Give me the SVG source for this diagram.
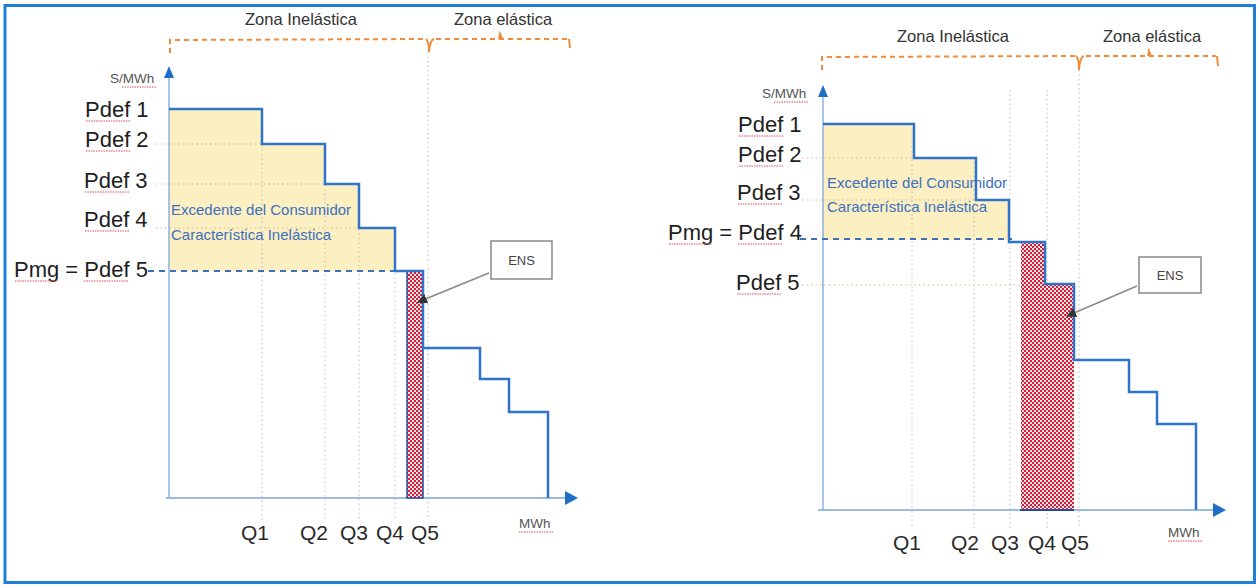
<svg xmlns="http://www.w3.org/2000/svg" width="1259" height="587" viewBox="0 0 1259 587">
<defs>
<style>
.lbl{font-family:"Liberation Sans",Arial,sans-serif;fill:#1e1e1e;font-size:22px}
.q{font-family:"Liberation Sans",Arial,sans-serif;fill:#2a2a2a;font-size:21px;text-anchor:middle}
.zone{font-family:"Liberation Sans",Arial,sans-serif;fill:#333;font-size:16.5px}
.unit{font-family:"Liberation Sans",Arial,sans-serif;fill:#555;font-size:13.5px}
.blue{font-family:"Liberation Sans",Arial,sans-serif;fill:#3b6fbf;font-size:15px}
.ens{font-family:"Liberation Sans",Arial,sans-serif;fill:#444;font-size:13px;text-anchor:middle}
.step{fill:none;stroke:#2f74c8;stroke-width:2.5;stroke-linejoin:miter}
.axis{stroke:#7aa6dc;stroke-width:1.3;fill:none}
.head{fill:#1f6fc8}
.yel{fill:#fcefc2}
.pmg{stroke:#3f6fb6;stroke-width:2;stroke-dasharray:6 5;fill:none}
.gv{stroke:#bdbdbd;stroke-width:1;stroke-dasharray:1.5 3;fill:none}
.gh{stroke:#d2b98a;stroke-width:1;stroke-dasharray:1.5 3;fill:none}
.brace{stroke:#f08a3c;stroke-width:2;stroke-dasharray:5 4;fill:none}
.wavy{stroke:#e04b5a;stroke-width:1;stroke-dasharray:1.5 1;fill:none}
.ensbox{fill:#fff;stroke:#777;stroke-width:1.3}
.ensline{stroke:#8a8a8a;stroke-width:1.5;fill:none}
</style>
<pattern id="chk" width="4" height="4" patternUnits="userSpaceOnUse">
<rect width="4" height="4" fill="#d41f38"/>
<circle cx="1" cy="1" r="1.05" fill="#fff"/>
<circle cx="3" cy="3" r="1.05" fill="#fff"/>
</pattern>
<marker id="arr" markerWidth="10" markerHeight="10" refX="9" refY="5" orient="auto" markerUnits="userSpaceOnUse">
<path d="M0,0 L10,5 L0,10 Z" fill="#333"/>
</marker>
</defs>
<rect x="0" y="0" width="1259" height="587" fill="#fff"/>
<rect id="frame" x="5" y="5.5" width="1249.5" height="577" fill="none" stroke="#1f7fd6" stroke-width="3"/>

<!-- LEFT CHART -->
<g id="left-chart">
<g id="left-surplus">
<polygon class="yel" points="169,109 262,109 262,144 325,144 325,184 359,184 359,228 395,228 395,271 169,271"/>
</g>
<g id="left-grid">
<line class="gh" x1="156" y1="144" x2="262" y2="144"/>
<line class="gh" x1="156" y1="184" x2="325" y2="184"/>
<line class="gh" x1="156" y1="228" x2="359" y2="228"/>
<line class="gv" x1="262" y1="109" x2="262" y2="520"/>
<line class="gv" x1="325" y1="144" x2="325" y2="520"/>
<line class="gv" x1="359" y1="184" x2="359" y2="520"/>
<line class="gv" x1="395" y1="228" x2="395" y2="520"/>
<line class="gv" x1="428" y1="52" x2="428" y2="518"/>
</g>
<g id="left-axes">
<line class="axis" x1="169" y1="497" x2="169" y2="78"/>
<polygon class="head" points="169,66 164,78 174,78"/>
<line class="axis" x1="166" y1="498" x2="566" y2="498"/>
<polygon class="head" points="565,491 578,498 565,505"/>
<text class="unit" x="110" y="83">S/MWh</text>
<path class="wavy" d="M122,87 H157"/>
<text class="unit" x="519" y="528">MWh</text>
<path class="wavy" d="M519,532 H553"/>
</g>
<g id="left-ens">
<rect x="407" y="271" width="16" height="227" fill="url(#chk)" stroke="#1f4e9c" stroke-width="1.5"/>
</g>
<g id="left-pmg">
<line class="pmg" x1="148" y1="271" x2="400" y2="271"/>
</g>
<g id="left-curve">
<path class="step" d="M169,109 H262 V144 H325 V184 H359 V228 H395 V271 H423 V348 H480 V379 H509 V412 H548 V498"/>
</g>
<g id="left-labels">
<text class="lbl" x="85" y="117">Pdef 1</text>
<text class="lbl" x="85" y="147">Pdef 2</text>
<text class="lbl" x="84" y="188">Pdef 3</text>
<text class="lbl" x="84" y="227">Pdef 4</text>
<text class="lbl" x="14" y="277">Pmg = Pdef 5</text>
<path class="wavy" d="M86,121 H130 M86,151 H130 M85,192 H129 M85,231 H129 M15,281 H58 M84,281 H128"/>
<text class="blue" x="171" y="215">Excedente del Consumidor</text>
<text class="blue" x="171" y="240">Característica Inelástica</text>
<text class="q" x="255" y="540">Q1</text>
<text class="q" x="314" y="540">Q2</text>
<text class="q" x="354" y="540">Q3</text>
<text class="q" x="390" y="540">Q4</text>
<text class="q" x="425" y="540">Q5</text>
</g>
<g id="left-zones">
<text class="zone" x="245" y="25">Zona Inelástica</text>
<text class="zone" x="454" y="25">Zona elástica</text>
<path class="brace" d="M170,53 V40 L425,39"/>
<path d="M426,39 Q429,41 429,52 Q430,40 434,39" fill="none" stroke="#f08a3c" stroke-width="2"/>
<path class="brace" d="M436,39 H568"/>
<path d="M499,39 L500,34 L502,39 M569,39 L570,48" fill="none" stroke="#f08a3c" stroke-width="2"/>
</g>
<g id="left-ens-label">
<rect class="ensbox" x="491" y="241" width="61" height="38"/>
<text class="ens" x="521.5" y="265">ENS</text>
</g>
</g>

<!-- RIGHT CHART -->
<g id="right-chart">
<g id="right-surplus">
<polygon class="yel" points="823,124 914,124 914,158 976,158 976,200 1009,200 1009,240 823,240"/>
</g>
<g id="right-grid">
<line class="gh" x1="802" y1="158" x2="914" y2="158"/>
<line class="gh" x1="802" y1="200" x2="976" y2="200"/>
<line class="gh" x1="802" y1="285" x2="1045" y2="285"/>
<line class="gv" x1="912" y1="124" x2="912" y2="528"/>
<line class="gv" x1="974" y1="158" x2="974" y2="528"/>
<line class="gv" x1="1010" y1="90" x2="1010" y2="528"/>
<line class="gv" x1="1047" y1="90" x2="1047" y2="528"/>
<line class="gv" x1="1079" y1="70" x2="1079" y2="528"/>
</g>
<g id="right-axes">
<line class="axis" x1="823" y1="510" x2="823" y2="97"/>
<polygon class="head" points="823,85 818,97 828,97"/>
<line class="axis" x1="818" y1="510" x2="1214" y2="510"/>
<polygon class="head" points="1213,503 1226,510 1213,517"/>
<text class="unit" x="762" y="98">S/MWh</text>
<path class="wavy" d="M774,102 H808"/>
<text class="unit" x="1168" y="537">MWh</text>
<path class="wavy" d="M1168,541 H1202"/>
</g>
<g id="right-ens">
<path d="M1021,242 H1045 V284 H1074 V510 H1021 Z" fill="url(#chk)"/>
<line x1="1020" y1="510" x2="1074" y2="510" stroke="#1f4e9c" stroke-width="2"/>
</g>
<g id="right-pmg">
<line class="pmg" x1="800" y1="239" x2="1012" y2="239"/>
</g>
<g id="right-curve">
<path class="step" d="M823,124 H914 V158 H976 V200 H1009 V242 H1045 V284 H1074 V360 H1129 V392 H1157 V424 H1196 V510"/>
</g>
<g id="right-labels">
<text class="lbl" x="738" y="132">Pdef 1</text>
<text class="lbl" x="738" y="162">Pdef 2</text>
<text class="lbl" x="737" y="200">Pdef 3</text>
<text class="lbl" x="668" y="240">Pmg = Pdef 4</text>
<text class="lbl" x="736" y="290">Pdef 5</text>
<path class="wavy" d="M739,136 H783 M739,166 H783 M738,204 H782 M669,244 H712 M738,244 H782 M737,294 H781"/>
<text class="blue" x="827" y="188">Excedente del Consumidor</text>
<text class="blue" x="827" y="212">Característica Inelástica</text>
<text class="q" x="907" y="550">Q1</text>
<text class="q" x="965" y="550">Q2</text>
<text class="q" x="1005" y="550">Q3</text>
<text class="q" x="1042" y="550">Q4</text>
<text class="q" x="1075" y="550">Q5</text>
</g>
<g id="right-zones">
<text class="zone" x="897" y="42">Zona Inelástica</text>
<text class="zone" x="1103" y="42">Zona elástica</text>
<path class="brace" d="M822,70 V57 L1075,56"/>
<path d="M1076,56 Q1079,58 1079,70 Q1080,57 1084,56" fill="none" stroke="#f08a3c" stroke-width="2"/>
<path class="brace" d="M1086,56 H1216"/>
<path d="M1148,56 L1149,51 L1151,56 M1217,56 L1218,66" fill="none" stroke="#f08a3c" stroke-width="2"/>
</g>
<g id="right-ens-label">
<rect class="ensbox" x="1139" y="257" width="62" height="36"/>
<text class="ens" x="1170" y="280">ENS</text>
</g>
</g>

<g id="connectors">
<line class="ensline" x1="489" y1="273" x2="418" y2="302" marker-end="url(#arr)"/>
<line class="ensline" x1="1137" y1="286" x2="1067" y2="316" marker-end="url(#arr)"/>
</g>
</svg>
